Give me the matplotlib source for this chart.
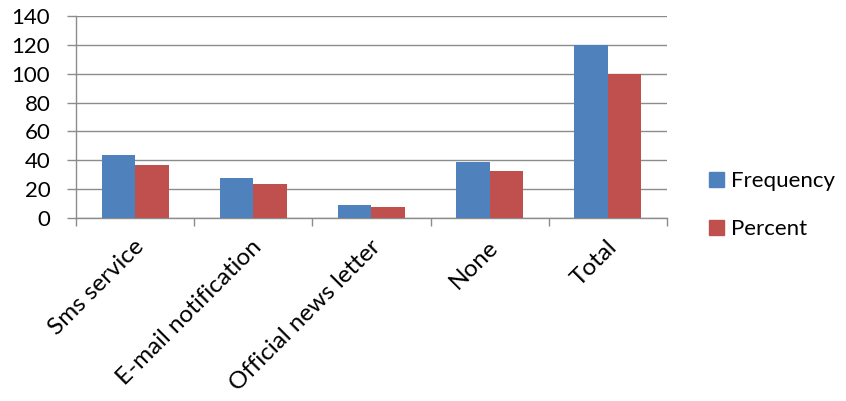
import matplotlib
matplotlib.use('Agg')
import matplotlib.pyplot as plt
import matplotlib.transforms as mtransforms
from matplotlib.patches import Patch
import numpy as np

# survey answers: how respondents get informed
categories = ['Sms service', 'E-mail notification', 'Official news letter', 'None', 'Total']
frequency = [44, 28, 9, 39, 120]
percent = [36.7, 23.3, 7.5, 32.5, 100]

blue = '#4F81BD'
red = '#C0504D'
grey = '#8C8C8C'

plt.rcParams['font.family'] = ['Lato', 'DejaVu Sans']
plt.rcParams['font.size'] = 16

fig = plt.figure(figsize=(8.46, 4.01), dpi=100)
ax = fig.add_axes([0.0898, 0.4564, 0.6986, 0.5036])

x = np.arange(len(categories))
w = 0.284
ax.bar(x - w / 2, frequency, w, color=blue, zorder=3)
ax.bar(x + w / 2, percent, w, color=red, zorder=3)

ax.set_xlim(-0.5, len(categories) - 0.5)
ax.set_ylim(0, 140)
ax.set_yticks(range(0, 141, 20))
ax.yaxis.grid(True, color=grey, linewidth=1.0, zorder=0)
ax.set_axisbelow(True)

for s in ['top', 'right']:
    ax.spines[s].set_visible(False)
for s in ['left', 'bottom']:
    ax.spines[s].set_color(grey)
    ax.spines[s].set_linewidth(1.0)

ax.tick_params(axis='y', length=6.5, width=1.0, color=grey, pad=12)

# category ticks sit between groups, labels under the group centres
ax.set_xticks(x)
ax.set_xticks(np.arange(-0.5, len(categories)), minor=True)
ax.tick_params(axis='x', which='major', length=0, pad=13)
ax.tick_params(axis='x', which='minor', length=6, width=1.0, color=grey)
ax.set_xticklabels(categories, rotation=45, ha='right', rotation_mode='anchor',
                   fontsize=17.5)
shift = mtransforms.ScaledTranslation(-2 / 100, 0, fig.dpi_scale_trans)
for lab in ax.get_xticklabels():
    lab.set_transform(lab.get_transform() + shift)

handles = [Patch(color=blue, label='Frequency'), Patch(color=red, label='Percent')]
fig.legend(handles=handles, loc='center left', bbox_to_anchor=(0.838, 0.488),
           frameon=False, borderpad=0, borderaxespad=0,
           handlelength=0.68, handleheight=0.68, handletextpad=0.3,
           labelspacing=1.25)

fig.savefig('out.png', dpi=100)
